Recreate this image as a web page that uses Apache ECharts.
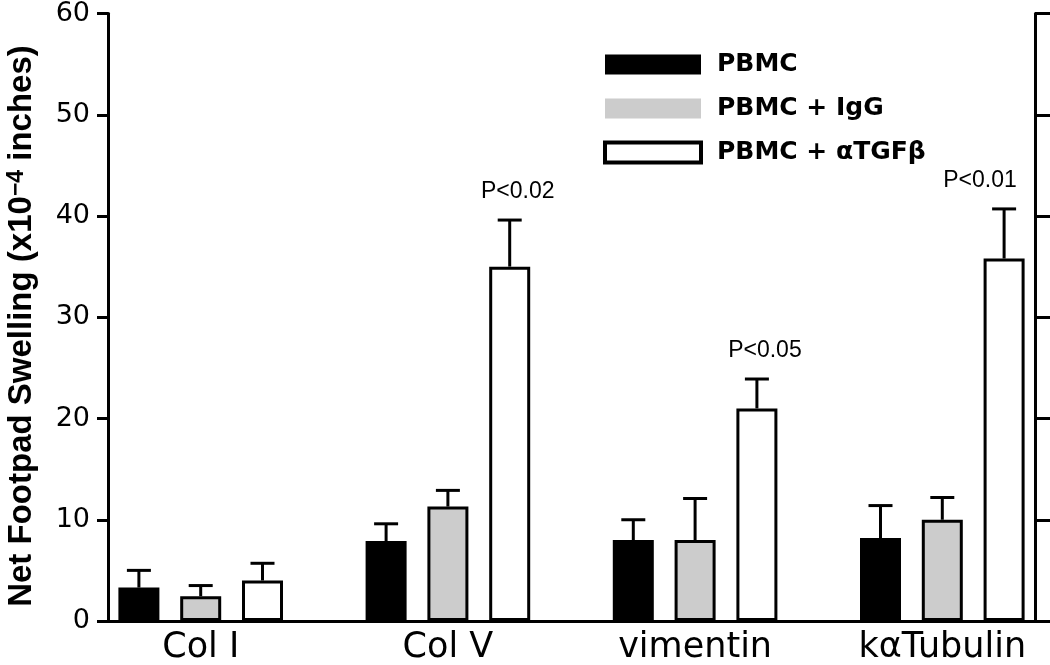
<!DOCTYPE html>
<html>
<head>
<meta charset="utf-8">
<script src="https://cdn.jsdelivr.net/npm/echarts@6/dist/echarts.min.js"></script>
<style>html,body{margin:0;padding:0;background:#fff}#c{width:1050px;height:665px}</style>
</head>
<body>
<div id="c"></div>
<script>
// ---- data ----
const categories = ['Col I', 'Col V', 'vimentin', 'kαTubulin'];
const seriesNames = ['PBMC', 'PBMC + IgG', 'PBMC + αTGFβ'];
const pbmcMean = [3.3, 7.9, 8.0, 8.2];
const pbmcSem  = [1.7, 1.7, 2.0, 3.2];
const iggMean  = [2.45, 11.3, 8.0, 10.0];
const iggSem   = [1.05, 1.6, 4.1, 2.2];
const tgfMean  = [4.0, 35.0, 21.0, 35.8];
const tgfSem   = [1.7, 4.6, 2.9, 4.9];
const annotations = ['', 'P<0.02', 'P<0.05', 'P<0.01'];
const yMin = 0, yMax = 60, yInterval = 10;

// ---- build slot layout (3 bars + 1 gap per category) ----
const means = [pbmcMean, iggMean, tgfMean];
const sems = [pbmcSem, iggSem, tgfSem];
const slotsPerCat = 4;
const nSlots = categories.length * slotsPerCat - 1;
const slotNames = [];
for (let i = 0; i < nSlots; i++) {
  const c = Math.floor(i / slotsPerCat), r = i % slotsPerCat;
  slotNames.push(r === 1 ? categories[c] : ('_' + i));
}
const colors = ['#000000', '#cccccc', '#ffffff'];
const barSeries = seriesNames.map((name, s) => {
  const d = new Array(nSlots).fill(null);
  categories.forEach((c, ci) => { d[ci * slotsPerCat + s] = means[s][ci]; });
  return {
    name, type: 'bar', data: d, barWidth: 41, barGap: '-100%',
    itemStyle: { color: colors[s], borderColor: '#000', borderWidth: 3 },
    z: 2
  };
});
const errData = [];
const errAnn = [];
seriesNames.forEach((name, s) => {
  categories.forEach((c, ci) => {
    errData.push([ci * slotsPerCat + s, means[s][ci], means[s][ci] + sems[s][ci]]);
    errAnn.push(s === 2 ? annotations[ci] : '');
  });
});

const chart = echarts.init(document.getElementById('c'), null, { renderer: 'canvas' });
const option = {
  animation: false,
  backgroundColor: '#fff',
  grid: { left: 108, right: 15, top: 11, bottom: 42 },
  legend: {
    orient: 'vertical', left: 598, top: 47, itemWidth: 96, itemHeight: 20, itemGap: 19,
    icon: 'rect', selectedMode: false,
    textStyle: { fontFamily: 'DejaVu Sans', fontWeight: 'bold', fontSize: 25, color: '#000', padding: [0, 0, 0, 11] },
    data: [
      { name: seriesNames[0], itemStyle: { borderWidth: 0 } },
      { name: seriesNames[1], itemStyle: { borderWidth: 0 } },
      { name: seriesNames[2], itemStyle: { borderWidth: 4, borderColor: '#000' } }
    ]
  },
  xAxis: [
    {
      type: 'category', data: slotNames, position: 'bottom', z: 5,
      axisLine: { lineStyle: { color: '#000', width: 3 } },
      axisTick: { show: false },
      axisLabel: {
        interval: (idx) => idx % slotsPerCat === 1,
        fontFamily: 'DejaVu Sans', fontSize: 35, color: '#000', margin: 9
      }
    },
    {
      type: 'category', data: slotNames, position: 'top',
      axisLine: { lineStyle: { color: '#000', width: 3 } },
      axisTick: { show: false }, axisLabel: { show: false }
    }
  ],
  yAxis: [
    {
      type: 'value', min: yMin, max: yMax, interval: yInterval, position: 'left',
      axisLine: { show: true, lineStyle: { color: '#000', width: 3 } },
      axisTick: { show: true, length: 11, lineStyle: { color: '#000', width: 3 } },
      axisLabel: { fontFamily: 'DejaVu Sans', fontSize: 27, color: '#000', margin: 18 },
      splitLine: { show: false }
    },
    {
      type: 'value', min: yMin, max: yMax, interval: yInterval, position: 'right',
      axisLine: { show: true, lineStyle: { color: '#000', width: 3 } },
      axisTick: { show: true, length: 15, lineStyle: { color: '#000', width: 3 } },
      axisLabel: { show: false },
      splitLine: { show: false }
    }
  ],
  graphic: [{
    type: 'text', x: 22, y: 326, rotation: Math.PI / 2,
    style: {
      text: '{a|Net Footpad Swelling (x10}{b|−4}{a| inches)}',
      align: 'center', verticalAlign: 'middle',
      rich: {
        a: { fontFamily: 'Liberation Sans', fontWeight: 'bold', fontSize: 33, fill: '#000' },
        b: { fontFamily: 'Liberation Sans', fontWeight: 'bold', fontSize: 23, fill: '#000', verticalAlign: 'top' }
      }
    }
  }],
  series: barSeries.concat([{
    type: 'custom', name: 'err', data: errData, z: 3,
    renderItem: (params, api) => {
      const x = api.value(0), m = api.value(1), t = api.value(2);
      const p0 = api.coord([x, m]);
      const p1 = api.coord([x, t]);
      const children = [
        { type: 'line', shape: { x1: p0[0], y1: p0[1], x2: p1[0], y2: p1[1] }, style: { stroke: '#000', lineWidth: 3 } },
        { type: 'line', shape: { x1: p1[0] - 12, y1: p1[1], x2: p1[0] + 12, y2: p1[1] }, style: { stroke: '#000', lineWidth: 3 } }
      ];
      const ann = errAnn[params.dataIndex];
      if (ann) {
        const tx = Math.min(p1[0] + 8, api.getWidth() - 70);
        children.push({
          type: 'text', x: tx, y: p1[1] - 28,
          style: { text: ann, fontFamily: 'Liberation Sans', fontSize: 23, fill: '#000', align: 'center', verticalAlign: 'middle' }
        });
      }
      return { type: 'group', children };
    }
  }])
};
chart.setOption(option);
</script>
</body>
</html>
